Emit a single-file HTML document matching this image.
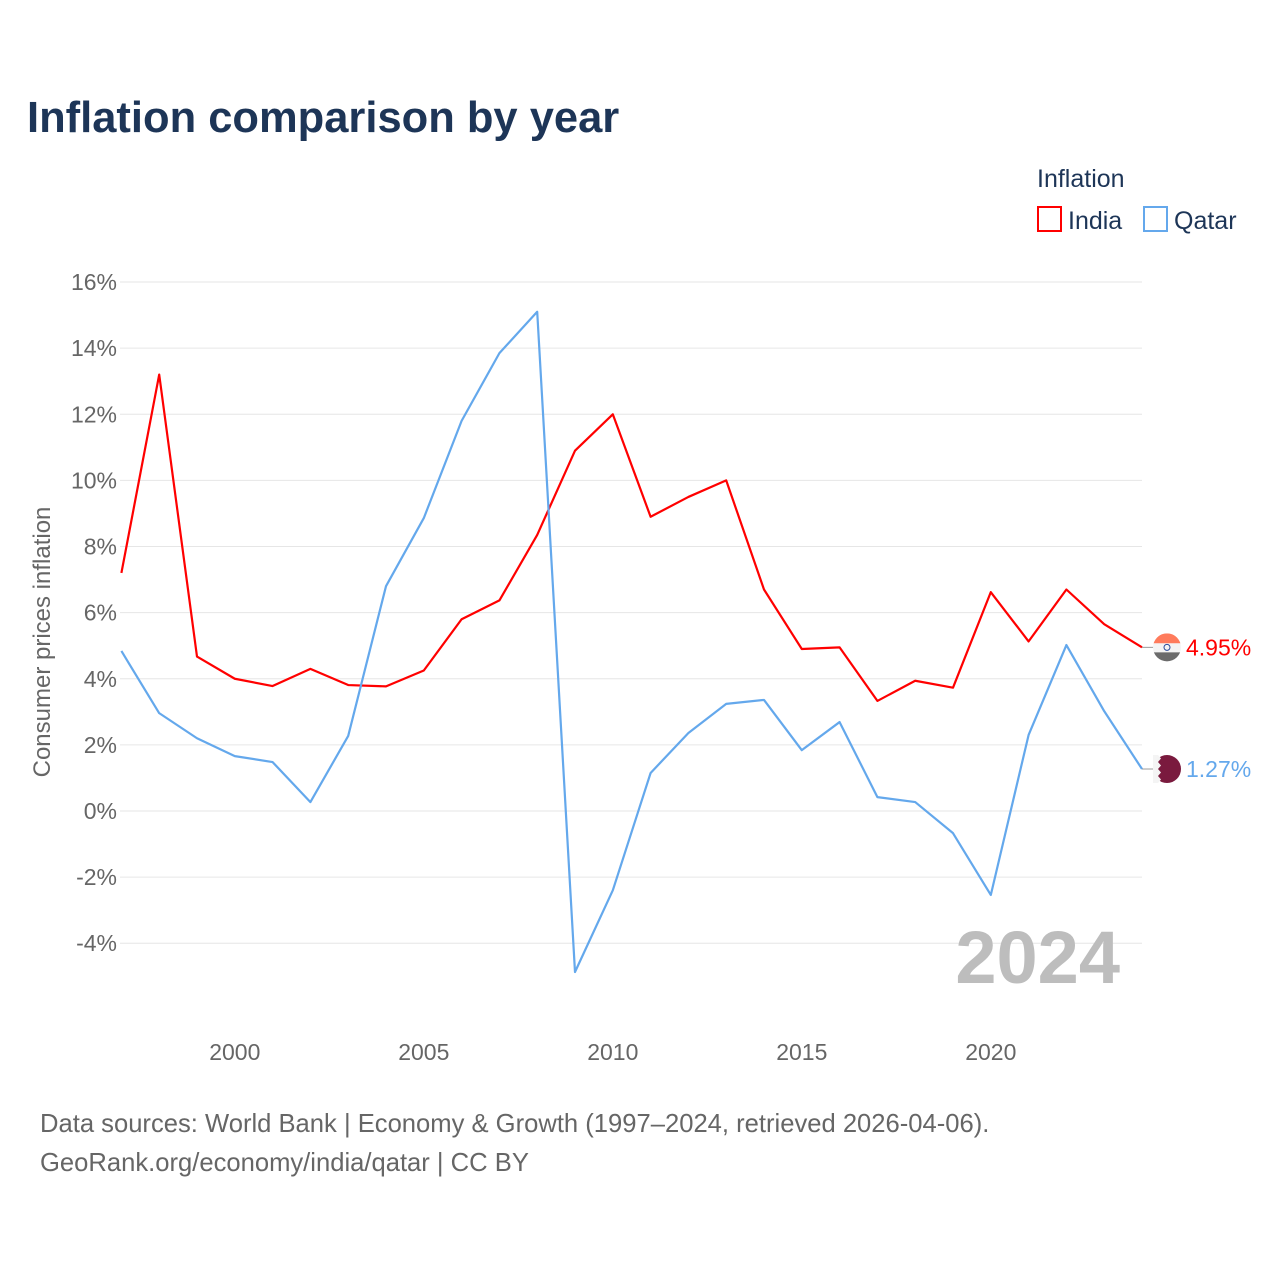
<!DOCTYPE html>
<html><head><meta charset="utf-8"><style>
body{margin:0;background:#fff;font-family:"Liberation Sans",sans-serif}
svg text{font-family:"Liberation Sans",sans-serif}
</style></head><body>
<svg id="chart" width="1280" height="1280" viewBox="0 0 1280 1280" xmlns="http://www.w3.org/2000/svg">
<rect width="1280" height="1280" fill="#fff"/>
<text x="27" y="132" font-size="43.5" font-weight="bold" fill="#1d3557">Inflation comparison by year</text>
<text x="1037" y="187" font-size="25" fill="#1d3557">Inflation</text>
<g><rect x="1038" y="207" width="23" height="24" fill="none" stroke="#ff0000" stroke-width="2"/><text x="1068" y="229" font-size="25" fill="#1d3557">India</text></g>
<g><rect x="1144" y="207" width="23" height="24" fill="none" stroke="#64a8ec" stroke-width="2"/><text x="1174" y="229" font-size="25" fill="#1d3557">Qatar</text></g>
<g id="grid"></g>
<g id="yticks"></g>
<g id="xticks"></g>
<text transform="translate(50,642) rotate(-90)" text-anchor="middle" font-size="24" fill="#666">Consumer prices inflation</text>
<text x="1120" y="983" text-anchor="end" font-size="74" font-weight="bold" fill="#bdbdbd">2024</text>
<g id="series"></g>
<text x="40" y="1132" font-size="25.6" fill="#666">Data sources: World Bank | Economy &amp; Growth (1997–2024, retrieved 2026-04-06).</text>
<text x="40" y="1171" font-size="25.6" fill="#666">GeoRank.org/economy/india/qatar | CC BY</text>
</svg>
<script>
const years=[1997,1998,1999,2000,2001,2002,2003,2004,2005,2006,2007,2008,2009,2010,2011,2012,2013,2014,2015,2016,2017,2018,2019,2020,2021,2022,2023,2024];
const india=[7.2,13.2,4.67,4.0,3.78,4.3,3.81,3.77,4.25,5.8,6.37,8.35,10.9,12.0,8.9,9.5,10.0,6.7,4.9,4.95,3.33,3.94,3.73,6.62,5.13,6.7,5.65,4.95];
const qatar=[4.84,2.96,2.2,1.66,1.48,0.27,2.27,6.8,8.86,11.8,13.85,15.1,-4.87,-2.4,1.15,2.36,3.24,3.36,1.84,2.69,0.42,0.27,-0.67,-2.54,2.3,5.02,3.02,1.27];
const yTicks=[16,14,12,10,8,6,4,2,0,-2,-4];
const xTicks=[2000,2005,2010,2015,2020];
const NS="http://www.w3.org/2000/svg";
const x=v=>121.4+(v-1997)*37.8;
const y=v=>811-v*33.06;
function mk(tag,attrs,parent){const e=document.createElementNS(NS,tag);for(const k in attrs)e.setAttribute(k,attrs[k]);parent.appendChild(e);return e;}
const grid=document.getElementById('grid'),yt=document.getElementById('yticks'),xt=document.getElementById('xticks'),ser=document.getElementById('series');
yTicks.forEach(t=>{
 const l=mk('line',{x1:120,x2:1142,y1:y(t),y2:y(t),stroke:'#e6e6e6','stroke-width':1},grid);
 
 
 const tx=mk('text',{x:117,y:y(t)+8,'text-anchor':'end','font-size':23,fill:'#666'},yt);
 tx.textContent=t+'%';
 
 
});
xTicks.forEach(t=>{
 const tx=mk('text',{x:x(t),y:1060,'text-anchor':'middle','font-size':23,fill:'#666'},xt);
 tx.textContent=t;
 
 
});
function line(vals,color,name){
 const p=mk('polyline',{points:vals.map((v,i)=>x(years[i])+','+y(v)).join(' '),fill:'none',stroke:color,'stroke-width':2.2,'stroke-linejoin':'round'},ser);
 
 
 const last=vals[vals.length-1],lx=x(years[years.length-1]),ly=y(last);
 mk('line',{x1:lx,x2:lx+12,y1:ly,y2:ly,stroke:'#999','stroke-width':1},ser);
 return [lx,ly,last];
}
const [ix,iy,iv]=line(india,'#ff0000','india-line');
const [qx,qy,qv]=line(qatar,'#64a8ec','qatar-line');
const fi=mk('g',{},ser);


const cp=mk('clipPath',{id:'ci'},fi);
mk('circle',{cx:ix+25,cy:iy,r:14},cp);
const gi=mk('g',{'clip-path':'url(#ci)'},fi);
mk('rect',{x:ix+11,y:iy-14,width:28,height:10,fill:'#ff7b5c'},gi);
mk('rect',{x:ix+11,y:iy-4,width:28,height:9,fill:'#f4f4f4'},gi);
mk('rect',{x:ix+11,y:iy+5,width:28,height:10,fill:'#6b6b6b'},gi);
mk('circle',{cx:ix+25,cy:iy,r:3,fill:'none',stroke:'#2a4a9a','stroke-width':1},gi);
const ti=mk('text',{x:ix+44,y:iy+8,'font-size':23,fill:'#ff0000'},ser);
ti.textContent=iv.toFixed(2)+'%';


const fq=mk('g',{},ser);


mk('circle',{cx:qx+25,cy:qy,r:14,fill:'#7a1a3e'},fq);
mk('path',{d:`M${qx+11} ${qy-14}h5l3 3.5l-3 3.5l3 3.5l-3 3.5l3 3.5l-3 3.5l3 3.5l-3 3.5h-5z`,fill:'#f4f4f4'},fq);
const tq=mk('text',{x:qx+44,y:qy+8,'font-size':23,fill:'#64a8ec'},ser);
tq.textContent=qv.toFixed(2)+'%';


</script>
</body></html>
